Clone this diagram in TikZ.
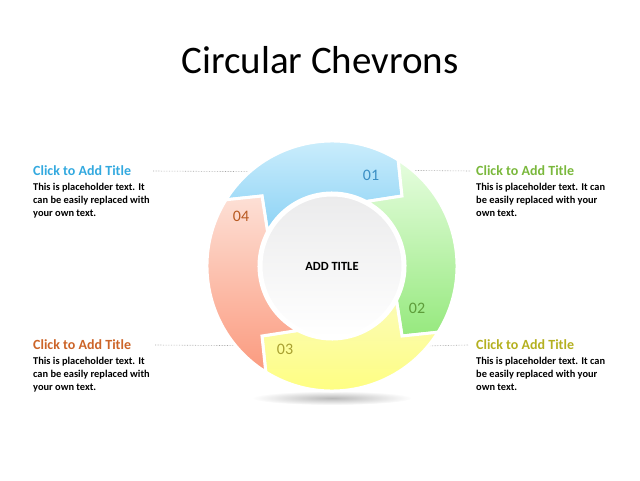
\documentclass[tikz,border=0pt]{standalone}
\usepackage{fontspec}
\setmainfont{Carlito}
\usetikzlibrary{positioning}
\definecolor{blueT}{HTML}{D6F2FD}
\definecolor{blueB}{HTML}{8CD2F5}
\definecolor{greenT}{HTML}{E6FDDF}
\definecolor{greenB}{HTML}{96E97E}
\definecolor{yelT}{HTML}{FBFBB6}
\definecolor{yelB}{HTML}{FFFF78}
\definecolor{redT}{HTML}{FDE0D6}
\definecolor{redB}{HTML}{FB9A7E}
\definecolor{headblue}{HTML}{33A9DF}
\definecolor{headgreen}{HTML}{7AB83C}
\definecolor{headorange}{HTML}{CC6428}
\definecolor{headolive}{HTML}{B4B020}
\definecolor{numblue}{HTML}{3B8FC4}
\definecolor{numgreen}{HTML}{5E9C3A}
\definecolor{numolive}{HTML}{A8A030}
\definecolor{numbrown}{HTML}{B85A22}
\definecolor{hubT}{HTML}{EBEBEC}
\begin{document}
\begin{tikzpicture}[x=1pt,y=1pt,
    chev/.style={draw=white, line width=3pt, line join=miter},
    head/.style={font=\bfseries\fontsize{14}{16}\selectfont, inner sep=0pt},
    body/.style={font=\bfseries\fontsize{10.4}{13}\selectfont, align=left, inner sep=0pt},
    num/.style={font=\fontsize{16}{18}\selectfont},
    guide/.style={gray!70, densely dotted, line width=0.6pt},
    hub/.style={circle, minimum size=142, inner sep=0pt, draw=white, line width=3pt,
        top color=hubT, bottom color=white, font=\bfseries\fontsize{12.5}{14}\selectfont}]
    \useasboundingbox (0,0) rectangle (640,480);
    \coordinate (C) at (332,214);

    \node[font=\fontsize{39}{46}\selectfont] (title) at (320,420) {Circular Chevrons};

    % text blocks
    \node[head, text=headblue, anchor=west] (h1) at (33,309) {Click to Add Title};
    \node[body, below right=7pt and 0pt of h1.south west] (b1) {This is placeholder text. It\\can be easily replaced with\\your own text.};
    \node[head, text=headgreen, anchor=west] (h2) at (476,309) {Click to Add Title};
    \node[body, below right=7pt and 0pt of h2.south west] (b2) {This is placeholder text. It can\\be easily replaced with your\\own text.};
    \node[head, text=headorange, anchor=west] (h3) at (33,135) {Click to Add Title};
    \node[body, below right=7pt and 0pt of h3.south west] (b3) {This is placeholder text. It\\can be easily replaced with\\your own text.};
    \node[head, text=headolive, anchor=west] (h4) at (476,135) {Click to Add Title};
    \node[body, below right=7pt and 0pt of h4.south west] (b4) {This is placeholder text. It can\\be easily replaced with your\\own text.};

    % guides run under the ring
    \coordinate (g1) at (300,308);
    \coordinate (g2) at (370,310);
    \coordinate (g3) at (290,134);
    \coordinate (g4) at (380,133);
    \draw[guide] ([xshift=22pt]h1.east) -- (g1);
    \draw[guide] ([xshift=-6pt]h2.west) -- (g2);
    \draw[guide] ([xshift=24pt]h3.east) -- (g3);
    \draw[guide] ([xshift=-8pt]h4.west) -- (g4);

    % shadow
    \shade[inner color=gray!55, outer color=white, shift={(C)}] (0,-132) ellipse[x radius=80, y radius=7];

    % ring
    \foreach \a/\ct/\cb in {135/blueT/blueB, 45/greenT/greenB, -45/yelT/yelB, -135/redT/redB}
        \draw[chev, top color=\ct, bottom color=\cb, shift={(C)}] (\a+13:125)
            arc[start angle=\a+13, end angle=\a-77, radius=125] -- (\a-90:99) -- (\a-73:73)
            arc[start angle=\a-73, end angle=\a+17, radius=73] -- (\a:99) -- cycle;

    \node[hub] (hubnode) at (C) {ADD TITLE};

    \node[num, text=numblue] (n1) at (371,305) {01};
    \node[num, text=numgreen] (n2) at (417,172) {02};
    \node[num, text=numolive] (n3) at (285,131) {03};
    \node[num, text=numbrown] (n4) at (241,264) {04};
\end{tikzpicture}
\end{document}
